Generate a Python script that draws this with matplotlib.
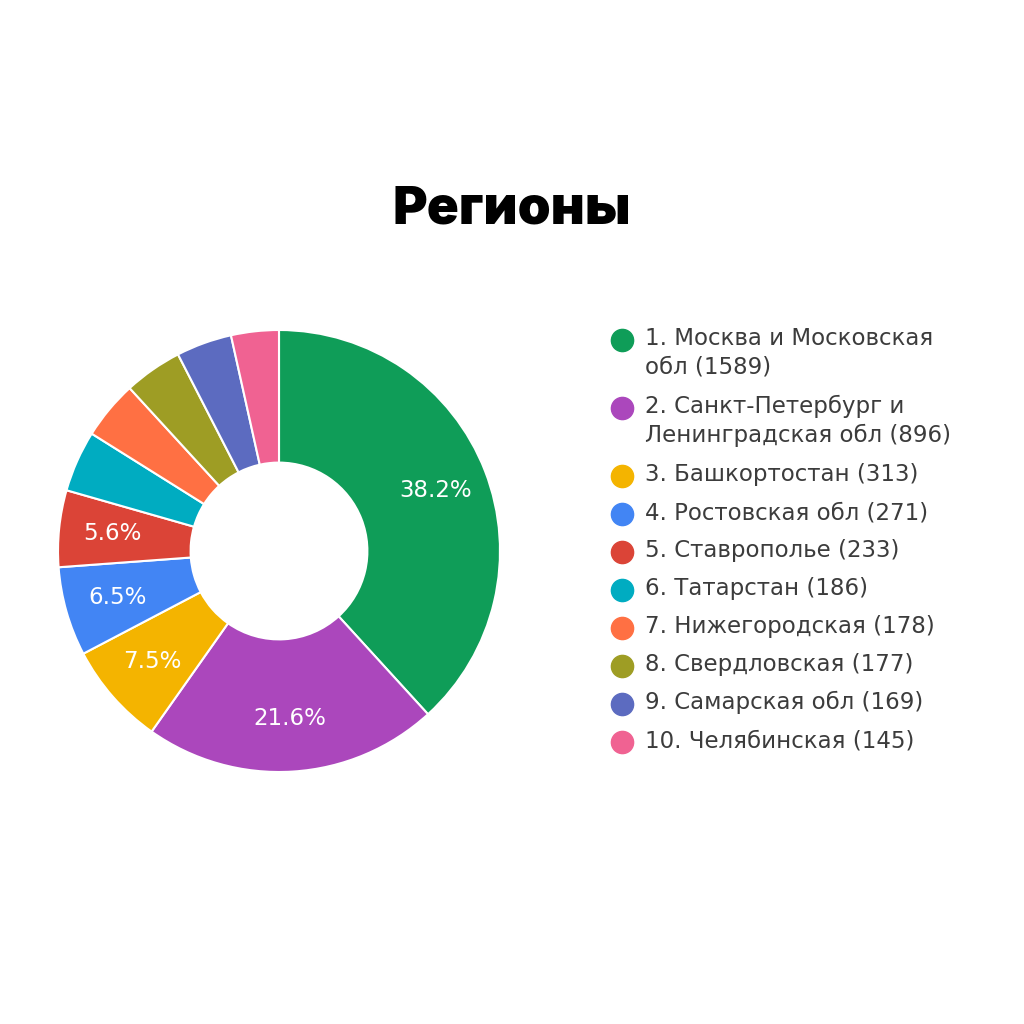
import numpy as np
import matplotlib.pyplot as plt
from matplotlib.lines import Line2D

plt.rcParams['font.family'] = ['DejaVu Sans']

# data
regions = ['1. Москва и Московская\nобл', '2. Санкт-Петербург и\nЛенинградская обл',
           '3. Башкортостан', '4. Ростовская обл', '5. Ставрополье', '6. Татарстан',
           '7. Нижегородская', '8. Свердловская', '9. Самарская обл', '10. Челябинская']
counts = [1589, 896, 313, 271, 233, 186, 178, 177, 169, 145]
colors = ['#0f9d58', '#ab47bc', '#f4b400', '#4285f4', '#db4437', '#00acc1',
          '#ff7043', '#9e9d24', '#5c6bc0', '#f06292']

fig = plt.figure(figsize=(10.24, 10.24), dpi=100)
fig.patch.set_facecolor('white')

fig.text(0.5, 1 - 210 / 1024, 'Регионы', ha='center', va='center',
         fontsize=38, fontweight='black', family=['Inter', 'DejaVu Sans'], color='black')

ax = fig.add_axes([(279 - 221) / 1024, (1024 - 772) / 1024, 442 / 1024, 442 / 1024])
wedges, texts, autotexts = ax.pie(
    counts, colors=colors, startangle=90, counterclock=False,
    autopct=lambda p: f'{p:.1f}%' if p >= 5 else '', pctdistance=0.76,
    wedgeprops=dict(width=0.6, edgecolor='white', linewidth=1.5))
for t in autotexts:
    t.set_color('white')
    t.set_fontsize(16.5)
ax.set_xlim(-1.0, 1.0)
ax.set_ylim(-1.0, 1.0)
ax.set_aspect('equal')
ax.axis('off')

# legend, drawn by hand so wrapped labels keep the marker on the first line
y = 1 - 340 / 1024
for name, n, c in zip(regions, counts, colors):
    fig.add_artist(Line2D([622 / 1024], [y], marker='o', markersize=16,
                          color=c, transform=fig.transFigure))
    label = f'{name} ({n})'
    fig.text(645 / 1024, y + 13 / 1024, label, ha='left', va='top', fontsize=16.5,
             color='#3c3c3c', linespacing=1.3, transform=fig.transFigure)
    y -= (38 + 30 * label.count('\n')) / 1024

fig.savefig('out.png', dpi=100, facecolor='white')
